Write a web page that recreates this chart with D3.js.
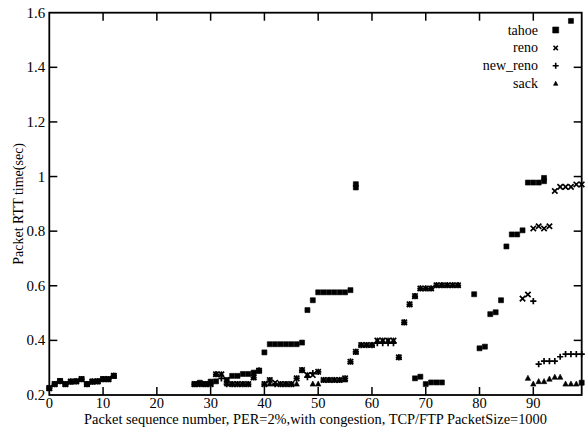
<!DOCTYPE html>
<html><head><meta charset="utf-8">
<script src="https://cdn.jsdelivr.net/npm/d3@7"></script>
<style>body{margin:0;background:#fff}svg{display:block}text{font-family:"Liberation Serif","Times New Roman",serif;fill:#000}</style>
</head><body>
<script>
// ---- data ----
const seriesNames = ["tahoe", "reno", "new_reno", "sack"];
const xTicks = [0, 10, 20, 30, 40, 50, 60, 70, 80, 90];
const yTicks = [0.2, 0.4, 0.6, 0.8, 1, 1.2, 1.4, 1.6];
const xLabel = "Packet sequence number, PER=2%,with congestion, TCP/FTP PacketSize=1000";
const yLabel = "Packet RTT time(sec)";

const tahoe = [[0,0.225],[1,0.24],[2,0.251],[3,0.24],[4,0.249],[5,0.25],[6,0.258],[7,0.24],[8,0.249],[9,0.25],[10,0.258],[11,0.258],[12,0.27],
 [27,0.24],[28,0.245],[29,0.24],[30,0.249],[31,0.25],[33,0.255],[34,0.27],[35,0.27],[36,0.277],[37,0.277],[38,0.282],[39,0.289],
 [40,0.356],[41,0.386],[42,0.386],[43,0.386],[44,0.386],[45,0.386],[46,0.386],[47,0.392],[48,0.511],[49,0.547],
 [50,0.576],[51,0.576],[52,0.576],[53,0.576],[54,0.576],[55,0.576],[56,0.584],[57,0.96],[57,0.972],
 [68,0.261],[69,0.267],[70,0.24],[71,0.246],[72,0.246],[73,0.246],
 [79,0.569],[80,0.371],[81,0.377],[82,0.496],[83,0.503],[84,0.547],[85,0.744],[86,0.788],[87,0.788],[88,0.803],
 [89,0.978],[90,0.978],[91,0.978],[92,0.983],[92,0.995],[97,1.57],[99,0.245]];

const reno = [[0,0.225],[1,0.24],[2,0.251],[3,0.24],[4,0.249],[5,0.25],[6,0.258],[7,0.24],[8,0.249],[9,0.25],[10,0.258],[11,0.258],[12,0.27],
 [27,0.24],[28,0.24],[29,0.24],[30,0.24],[31,0.276],[32,0.276],[33,0.255],[34,0.24],[35,0.24],[36,0.24],[37,0.24],[38,0.264],[39,0.289],
 [40,0.24],[41,0.255],[42,0.245],[43,0.24],[44,0.24],[45,0.24],[46,0.261],[47,0.291],[48,0.273],[49,0.273],[50,0.285],
 [51,0.255],[52,0.255],[53,0.255],[54,0.255],[55,0.261],[56,0.322],[57,0.358],[58,0.383],[59,0.383],[60,0.383],
 [61,0.399],[62,0.399],[63,0.399],[64,0.399],[65,0.338],[66,0.466],[67,0.532],[68,0.562],[69,0.59],[70,0.59],[71,0.59],
 [72,0.602],[73,0.602],[74,0.602],[75,0.602],[76,0.602],
 [88,0.553],[89,0.568],[90,0.81],[91,0.818],[92,0.81],[93,0.818],[94,0.947],[95,0.962],[96,0.962],[97,0.962],[98,0.971],[99,0.971]];

const newReno = [[0,0.225],[1,0.24],[2,0.251],[3,0.24],[4,0.249],[5,0.25],[6,0.258],[7,0.24],[8,0.249],[9,0.25],[10,0.258],[11,0.258],[12,0.27],
 [27,0.24],[28,0.24],[29,0.24],[30,0.24],[31,0.276],[32,0.261],[33,0.24],[34,0.24],[35,0.24],[36,0.24],[37,0.24],[38,0.264],[39,0.289],
 [40,0.24],[41,0.255],[42,0.24],[43,0.24],[44,0.24],[45,0.24],[46,0.261],[47,0.291],[48,0.265],[49,0.28],[50,0.285],
 [51,0.255],[52,0.255],[53,0.255],[54,0.255],[55,0.261],[56,0.322],[57,0.358],[58,0.383],[59,0.383],[60,0.383],
 [61,0.39],[62,0.39],[63,0.39],[64,0.39],[65,0.338],[66,0.466],[67,0.532],[68,0.562],[69,0.59],[70,0.59],[71,0.59],
 [72,0.602],[73,0.602],[74,0.602],[75,0.602],[76,0.602],
 [90,0.544],[91,0.313],[92,0.324],[93,0.324],[94,0.324],[95,0.34],[96,0.35],[97,0.35],[98,0.35],[99,0.35]];

const sack = [[0,0.225],[1,0.24],[2,0.251],[3,0.24],[4,0.249],[5,0.25],[6,0.258],[7,0.24],[8,0.249],[9,0.25],[10,0.258],[11,0.258],[12,0.27],
 [27,0.24],[28,0.24],[29,0.24],[30,0.24],[31,0.276],[32,0.276],[33,0.24],[34,0.24],[35,0.24],[36,0.24],[37,0.24],[38,0.264],[39,0.289],
 [40,0.24],[41,0.24],[42,0.24],[43,0.24],[44,0.24],[45,0.24],[46,0.24],[47,0.291],[48,0.273],[49,0.24],[50,0.24],
 [51,0.255],[52,0.255],[53,0.255],[54,0.255],[55,0.255],[56,0.322],[57,0.358],[58,0.383],[59,0.383],[60,0.383],
 [61,0.399],[62,0.399],[63,0.399],[64,0.399],[65,0.338],[66,0.466],[67,0.532],[68,0.562],[69,0.59],[70,0.59],[71,0.59],
 [72,0.602],[73,0.602],[74,0.602],[75,0.602],[76,0.602],
 [89,0.261],[90,0.24],[91,0.249],[92,0.249],[93,0.258],[94,0.265],[95,0.265],[96,0.24],[97,0.24],[98,0.24]];

// ---- layout ----
const W = 585, H = 430;
const m = {left: 49.3, right: 3.3, top: 12.7, bottom: 35};
const svg = d3.select("body").append("svg").attr("width", W).attr("height", H);

const x = d3.scaleLinear().domain([0, 99]).range([m.left, W - m.right]);
const y = d3.scaleLinear().domain([0.2, 1.6]).range([H - m.bottom, m.top]);

// symbol types
const symX = {draw(ctx, r){ ctx.moveTo(-r,-r); ctx.lineTo(r,r); ctx.moveTo(-r,r); ctx.lineTo(r,-r); }};
const symPlus = {draw(ctx, r){ ctx.moveTo(-r,0); ctx.lineTo(r,0); ctx.moveTo(0,-r); ctx.lineTo(0,r); }};
const symSq = {draw(ctx, r){ ctx.rect(-r,-r,2*r,2*r); }};
const symTri = {draw(ctx, r){ ctx.moveTo(0,-r*1.15); ctx.lineTo(r,r*0.75); ctx.lineTo(-r,r*0.75); ctx.closePath(); }};

const styles = {
  tahoe:   {data: tahoe,  type: symSq,  r: 2.5, fill: true},
  reno:    {data: reno,   type: symX,   r: 2.7, fill: false},
  new_reno:{data: newReno,type: symPlus,r: 3.1, fill: false},
  sack:    {data: sack,   type: symTri, r: 2.7, fill: true}
};

// frame
const g = svg.append("g");
g.append("rect").attr("x", x(0)).attr("y", y(1.6)).attr("width", x(99)-x(0)).attr("height", y(0.2)-y(1.6))
  .attr("fill","none").attr("stroke","#000").attr("stroke-width",1.8);

// ticks (inward, mirrored)
const tl = 8;
xTicks.forEach(t => {
  if (t === 0) return;
  g.append("line").attr("x1", x(t)).attr("x2", x(t)).attr("y1", y(0.2)).attr("y2", y(0.2)-tl).attr("stroke","#000").attr("stroke-width",1.5);
  g.append("line").attr("x1", x(t)).attr("x2", x(t)).attr("y1", y(1.6)).attr("y2", y(1.6)+tl).attr("stroke","#000").attr("stroke-width",1.5);
});
yTicks.forEach(t => {
  if (t === 0.2 || t === 1.6) return;
  g.append("line").attr("x1", x(0)).attr("x2", x(0)+tl).attr("y1", y(t)).attr("y2", y(t)).attr("stroke","#000").attr("stroke-width",1.5);
  g.append("line").attr("x1", x(99)).attr("x2", x(99)-tl).attr("y1", y(t)).attr("y2", y(t)).attr("stroke","#000").attr("stroke-width",1.5);
});
// tick labels
xTicks.forEach(t => {
  g.append("text").attr("x", x(t)).attr("y", y(0.2)+12.5).attr("text-anchor","middle").attr("font-size",14.5).text(t);
});
yTicks.forEach(t => {
  g.append("text").attr("x", x(0)-4).attr("y", y(t)+5).attr("text-anchor","end").attr("font-size",15).text(d3.format("")(t));
});
// axis labels
g.append("text").attr("x", (x(0)+x(99))/2).attr("y", H-6).attr("text-anchor","middle").attr("font-size",14.4).text(xLabel);
g.append("text").attr("transform", `translate(${23},${(y(0.2)+y(1.6))/2}) rotate(-90)`).attr("text-anchor","middle").attr("font-size",14).text(yLabel);

// points
seriesNames.forEach(name => {
  const s = styles[name];
  const gen = d3.symbol().type(s.type).size(s.r);
  g.append("g").selectAll("path").data(s.data).join("path")
    .attr("transform", d => `translate(${x(d[0])},${y(d[1])})`)
    .attr("d", gen)
    .attr("fill", s.fill ? "#000" : "none")
    .attr("stroke", "#000")
    .attr("stroke-width", s.fill ? 0.6 : 1.7);
});

// legend
const legY0 = 34.5, legDy = 17.9;
seriesNames.forEach((name, i) => {
  const s = styles[name];
  const ly = legY0 + i*legDy;
  g.append("text").attr("x", 538).attr("y", ly).attr("text-anchor","end").attr("font-size",14).text(name);
  const rr = name === "tahoe" ? 3 : (name === "new_reno" ? 3 : 2.2);
  g.append("path").attr("transform", `translate(${555.7},${ly-4.5})`)
    .attr("d", d3.symbol().type(s.type).size(rr)())
    .attr("fill", s.fill ? "#000" : "none").attr("stroke","#000").attr("stroke-width", s.fill ? 0.6 : 1.6);
});
</script>
</body></html>
